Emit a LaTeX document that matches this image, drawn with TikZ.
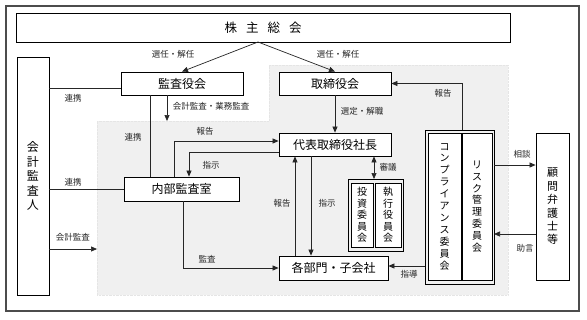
\documentclass[tikz,border=0pt]{standalone}
\usepackage{fontspec}
\setmainfont{Noto Sans CJK JP}
\usetikzlibrary{arrows.meta}
\tikzset{
  bx/.style={draw, line width=0.8pt, fill=white, inner sep=0pt, font=\fontsize{12}{14}\selectfont},
  vbx/.style={bx, align=center},
  lbl/.style={font=\fontsize{8.5}{10}\selectfont, inner sep=0pt, text=black!85},
  ln/.style={line width=0.7pt, draw=black!85},
  arr/.style={ln, -{Triangle[length=6pt,width=5pt]}},
  darr/.style={ln, {Triangle[length=6pt,width=5pt]}-{Triangle[length=6pt,width=5pt]}},
}
\begin{document}
\begin{tikzpicture}[x=1pt,y=-1pt]
\useasboundingbox (0,0) rectangle (587,319);
\fill[white] (0,0) rectangle (587,319);
% outer frame
\draw[line width=1.6pt, draw=black!70] (6,6) rectangle (579,311);
% gray area
\fill[black!6] (269,65) -- (508,65) -- (508,295) -- (97,295) -- (97,121) -- (269,121) -- cycle;
\draw[black!10, densely dotted, line width=0.4pt] (269,65) -- (508,65) -- (508,295) -- (97,295) -- (97,121) -- (269,121) -- cycle;

% boxes
\node[bx, minimum width=494pt, minimum height=29pt, font=\fontsize{12.5}{14}\selectfont] (kabu) at (263,27.5) {株\hspace{9pt}主\hspace{9pt}総\hspace{9pt}会};
\node[bx, minimum width=122pt, minimum height=23pt] (kansa) at (182,83.5) {監査役会};
\node[bx, minimum width=112pt, minimum height=23pt] (tori) at (335,83.5) {取締役会};
\node[bx, minimum width=112pt, minimum height=23pt] (daihyo) at (335,144.5) {代表取締役社長};
\node[bx, minimum width=115pt, minimum height=24pt] (naibu) at (181.5,189) {内部監査室};
\node[bx, minimum width=109pt, minimum height=24pt] (kakubu) at (333.5,268) {各部門・子会社};
\node[vbx, minimum width=32pt, minimum height=238pt, font=\fontsize{12}{14.5}\selectfont] (kaikei) at (33,176) {会\\計\\監\\査\\人};
\node[vbx, minimum width=33pt, minimum height=147pt, font=\fontsize{11}{13.4}\selectfont] (komon) at (552.5,206.5) {顧\\問\\弁\\護\\士\\等};

% committee group
\draw[line width=0.8pt] (348,179) rectangle (403,251);
\node[vbx, line width=1pt, minimum width=22pt, minimum height=64pt, font=\fontsize{10}{11.5}\selectfont] (toushi) at (362,215) {投\\資\\委\\員\\会};
\node[vbx, line width=1pt, minimum width=26pt, minimum height=64pt, font=\fontsize{10}{11.5}\selectfont] (shikkou) at (388,215) {執\\行\\役\\員\\会};
\coordinate (cmtop) at (374,179);

% compliance group
\draw[line width=0.8pt] (425,130) rectangle (494,284);
\node[vbx, minimum width=33pt, minimum height=147pt, font=\fontsize{10}{11.9}\selectfont] (comp) at (444.5,206.5) {コ\\ン\\プ\\ラ\\イ\\ア\\ン\\ス\\委\\員\\会};
\node[vbx, minimum width=30pt, minimum height=147pt, font=\fontsize{10}{11.9}\selectfont] (risk) at (477,206.5) {リ\\ス\\ク\\管\\理\\委\\員\\会};
\coordinate (cgtop) at (462,130);
\coordinate (cgleft) at (425,266);
\coordinate (cgright) at (494,165);
\coordinate (cgright2) at (494,234);

% connectors
\coordinate (kt) at (258,42);
\draw[arr] (kt) -- (kansa.north);
\draw[arr] (kt) -- (tori.north);
\draw[ln] (kaikei.east |- 0,88) -- (kansa.west |- 0,88);
\draw[arr] (kansa.south -| 167,0) -- (167,121);
\draw[ln] (kansa.south -| 150,0) -- (naibu.north -| 150,0);
\draw[ln] (kaikei.east |- naibu.west) -- (naibu.west);
\draw[arr] (kaikei.east |- 0,249) -- (97,249);
\draw[arr] (naibu.north -| 174,0) |- (daihyo.west |- 0,141);
\draw[arr] (daihyo.west |- 0,152) -| (naibu.north -| 189,0);
\draw[arr] (tori.south) -- (daihyo.north);
\draw[arr] (naibu.south -| 183,0) |- (kakubu.west);
\draw[arr] (kakubu.north -| 295,0) -- (daihyo.south -| 295,0);
\draw[arr] (daihyo.south -| 311,0) -- (kakubu.north -| 311,0);
\draw[darr] (daihyo.south -| cmtop) -- (cmtop);
\draw[arr] (cgtop) |- (tori.east);
\draw[arr] (cgleft) -- (kakubu.east |- cgleft);
\draw[arr] (cgright) -- (komon.west |- cgright);
\draw[arr] (komon.west |- cgright2) -- (cgright2);

% labels
\node[lbl] (l1) at (173,54) {選任・解任};
\node[lbl] (l2) at (338,54) {選任・解任};
\node[lbl] (l3) at (73,98) {連携};
\node[lbl] (l4) at (211,106) {会計監査・業務監査};
\node[lbl] (l5) at (133,137) {連携};
\node[lbl] (l6) at (205,131) {報告};
\node[lbl] (l7) at (211,165) {指示};
\node[lbl] (l8) at (362,111) {選定・解職};
\node[lbl] (l9) at (73,182) {連携};
\node[lbl] (l10) at (73,237) {会計監査};
\node[lbl] (l11) at (207,259) {監査};
\node[lbl] (l12) at (282,203) {報告};
\node[lbl] (l13) at (327,203) {指示};
\node[lbl] (l14) at (388,167) {審議};
\node[lbl] (l15) at (443,93) {報告};
\node[lbl] (l16) at (409,274) {指導};
\node[lbl] (l17) at (522,154) {相談};
\node[lbl] (l18) at (525,248) {助言};
\end{tikzpicture}
\end{document}
